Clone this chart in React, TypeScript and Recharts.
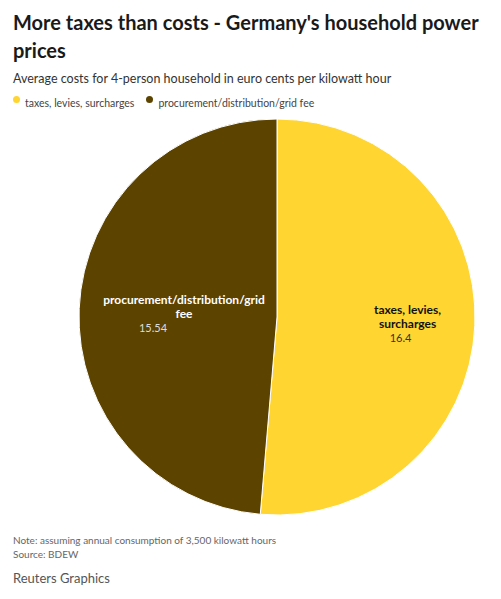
import { PieChart, Pie, Cell } from 'recharts';

const categories = ['taxes, levies, surcharges', 'procurement/distribution/grid fee'];
const values = [16.4, 15.54];
const colors = ['#ffd532', '#5c4300'];

const chartData = categories.map((name, i) => ({ name, value: values[i] }));

const FONT = "'Source Sans Pro', Lato, 'Noto Sans', sans-serif";

const RADIAN = Math.PI / 180;

// label text wrapped like the original
const labelLines = [
  ['taxes, levies,', 'surcharges'],
  ['procurement/distribution/grid', 'fee'],
];
const labelDist = [0.66, 0.47];

function renderLabel(props: any) {
  const { cx, cy, midAngle, outerRadius, index, value } = props;
  const r = outerRadius * labelDist[index];
  const x = cx + r * Math.cos(-midAngle * RADIAN);
  const y = cy + r * Math.sin(-midAngle * RADIAN);
  const dark = index === 0;
  const lines = labelLines[index];
  const top = y - (lines.length * 14) / 2 - 6;
  return (
    <g>
      {lines.map((l, j) => (
        <text
          key={j}
          x={x}
          y={top + j * 14 + 11}
          textAnchor="middle"
          fontFamily={FONT}
          fontWeight={700}
          fontSize={12}
          fill={dark ? '#111' : '#fff'}
        >
          {l}
        </text>
      ))}
      <text
        x={index === 0 ? x - 7 : x - 31}
        y={top + lines.length * 14 + 11}
        textAnchor="middle"
        fontFamily={FONT}
        fontSize={11}
        fill={dark ? '#333' : '#ddd'}
      >
        {value}
      </text>
    </g>
  );
}

export default function App() {
  return (
    <div style={{ position: 'absolute', left: 0, top: 0, width: 501, height: 599, background: '#fff', fontFamily: FONT }}>
      <div style={{ position: 'absolute', left: 13, top: 8, width: 480, fontSize: 20, fontWeight: 700, lineHeight: '28px', color: '#1a1a1a' }}>
        More taxes than costs - Germany's household power prices
      </div>
      <div style={{ position: 'absolute', left: 13, top: 71, fontSize: 12.5, color: '#333' }}>
        Average costs for 4-person household in euro cents per kilowatt hour
      </div>
      <div style={{ position: 'absolute', left: 13, top: 95, fontSize: 10.5, color: '#444', display: 'flex', gap: 12 }}>
        {categories.map((c, i) => (
          <span key={c} style={{ display: 'flex', alignItems: 'flex-start' }}>
            <span style={{ width: 7, height: 7, borderRadius: '50%', background: colors[i], marginRight: 5, marginTop: 1 }} />
            <span style={{ marginTop: 2 }}>{c}</span>
          </span>
        ))}
      </div>
      <div style={{ position: 'absolute', left: 0, top: 110 }}>
        <PieChart width={501} height={420}>
          <Pie
            data={chartData}
            dataKey="value"
            nameKey="name"
            cx={272}
            cy={202}
            outerRadius={198}
            startAngle={90}
            endAngle={-270}
            stroke="#fff"
            strokeWidth={1}
            label={renderLabel}
            labelLine={false}
            isAnimationActive={false}
          >
            {chartData.map((d, i) => (
              <Cell key={d.name} fill={colors[i]} />
            ))}
          </Pie>
        </PieChart>
      </div>
      <div style={{ position: 'absolute', left: 13, top: 533, fontSize: 10, lineHeight: '14px', color: '#666' }}>
        Note: assuming annual consumption of 3,500 kilowatt hours
        <br />
        Source: BDEW
      </div>
      <div style={{ position: 'absolute', left: 13, top: 570, fontSize: 13, color: '#555' }}>
        Reuters Graphics
      </div>
    </div>
  );
}
